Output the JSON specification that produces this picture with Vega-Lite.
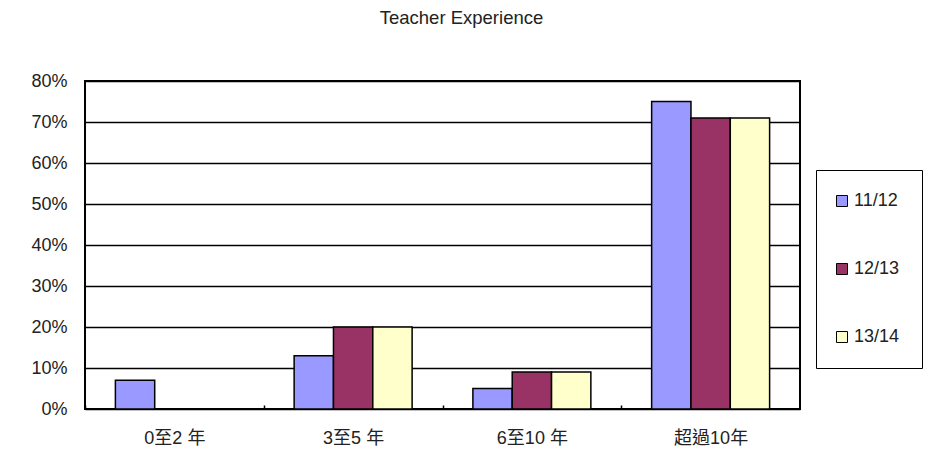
{
  "$schema": "https://vega.github.io/schema/vega-lite/v6.json",
  "autosize": {"type": "none"},
  "padding": {"left": 85, "top": 81, "right": 146, "bottom": 45},
  "width": 715,
  "height": 328,
  "background": "white",
  "title": {
    "text": "Teacher Experience",
    "fontSize": 18.5,
    "fontWeight": "normal",
    "font": "Liberation Sans",
    "color": "#222222",
    "anchor": "middle",
    "dx": 19,
    "offset": 45
  },
  "data": {
    "values": [
      {"category": "0至2 年", "year": "11/12", "share": 0.07},
      {"category": "3至5 年", "year": "11/12", "share": 0.13},
      {"category": "3至5 年", "year": "12/13", "share": 0.20},
      {"category": "3至5 年", "year": "13/14", "share": 0.20},
      {"category": "6至10 年", "year": "11/12", "share": 0.05},
      {"category": "6至10 年", "year": "12/13", "share": 0.09},
      {"category": "6至10 年", "year": "13/14", "share": 0.09},
      {"category": "超過10年", "year": "11/12", "share": 0.75},
      {"category": "超過10年", "year": "12/13", "share": 0.71},
      {"category": "超過10年", "year": "13/14", "share": 0.71}
    ]
  },
  "mark": {"type": "bar", "stroke": "black", "strokeWidth": 1.5},
  "encoding": {
    "x": {
      "field": "category",
      "type": "nominal",
      "sort": ["0至2 年", "3至5 年", "6至10 年", "超過10年"],
      "scale": {"paddingInner": 0.34, "paddingOuter": 0.17},
      "axis": {
        "title": null,
        "labelAngle": 0,
        "domain": false,
        "ticks": true,
        "tickSize": -4,
        "tickOffset": -89.375,
        "labelOffset": 89.375,
        "tickColor": "black",
        "tickWidth": 1.5,
        "labelPadding": 24,
        "labelFontSize": 18,
        "labelFont": "Liberation Sans, Noto Sans CJK TC",
        "labelColor": "#222222"
      }
    },
    "xOffset": {
      "field": "year",
      "type": "nominal",
      "sort": ["11/12", "12/13", "13/14"]
    },
    "y": {
      "field": "share",
      "type": "quantitative",
      "scale": {"domain": [0, 0.8], "nice": false},
      "axis": {
        "title": null,
        "values": [0, 0.1, 0.2, 0.3, 0.4, 0.5, 0.6, 0.7, 0.8],
        "format": ".0%",
        "domain": false,
        "ticks": false,
        "grid": true,
        "gridColor": "black",
        "gridWidth": 1.5,
        "gridOpacity": 1,
        "labelPadding": 18,
        "labelFontSize": 18,
        "labelFont": "Liberation Sans",
        "labelColor": "#222222"
      }
    },
    "color": {
      "field": "year",
      "type": "nominal",
      "sort": ["11/12", "12/13", "13/14"],
      "scale": {
        "domain": ["11/12", "12/13", "13/14"],
        "range": ["#9999FF", "#993366", "#FFFFCC"]
      },
      "legend": {
        "title": null,
        "orient": "none",
        "legendX": 731,
        "legendY": 89,
        "direction": "vertical",
        "symbolType": "square",
        "symbolSize": 121,
        "symbolStrokeColor": "black",
        "symbolStrokeWidth": 1,
        "symbolOpacity": 1,
        "symbolOffset": -5,
        "labelFontSize": 18,
        "labelFont": "Liberation Sans",
        "labelColor": "#222222",
        "labelOffset": 3,
        "rowPadding": 50,
        "padding": 22,
        "fillColor": "white",
        "strokeColor": "black"
      }
    }
  },
  "config": {
    "view": {"stroke": "black", "strokeWidth": 2, "fill": null}
  }
}
